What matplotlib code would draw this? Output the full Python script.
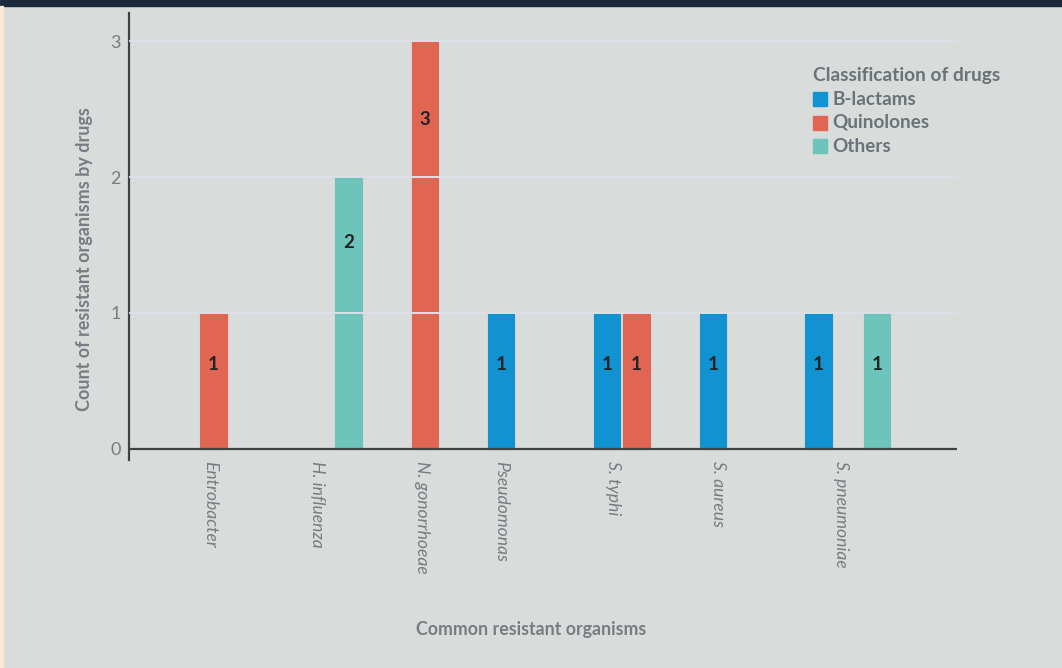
import matplotlib
matplotlib.use("Agg")
import matplotlib.pyplot as plt
from matplotlib.patches import Rectangle

# ---- data ----
organisms = ['Entrobacter', 'H. influenza', 'N. gonorrhoeae', 'Pseudomonas',
             'S. typhi', 'S. aureus', 'S. pneumoniae']
b_lactams = [0, 0, 0, 1, 1, 1, 1]
quinolones = [1, 0, 3, 0, 1, 0, 0]
others = [0, 2, 0, 0, 0, 0, 1]
series_names = ['B-lactams', 'Quinolones', 'Others']
y_ticks = [0, 1, 2, 3]

# ---- style / layout ----
colors = ['#1193d1', '#e06552', '#6cc4bb']
BG = '#d8dcdb'
GRID = '#dde0e6'
AXC = '#3e4245'
TXT = '#767c81'
LEG = '#6b7378'
offsets = [-0.28, 0.0, 0.275]
bar_w = 0.25
# visual shift of the rotated tick labels as seen in the reference
tick_label_shift = [-0.03, -0.02, -0.03, -0.28, -0.22, -0.23, -0.07]

W, H = 1062, 668
fig = plt.figure(figsize=(W / 100, H / 100), dpi=100)
fig.patch.set_facecolor(BG)

# frame decorations
fig.patches.append(Rectangle((0, 1 - 6 / H), 1, 6 / H, transform=fig.transFigure,
                             color='#1b2a3a', zorder=0))
fig.patches.append(Rectangle((0, 0), 3 / W, 1 - 6 / H, transform=fig.transFigure,
                             color='#fbe6d8', zorder=0))

L, R, T, B = 129, 957, 13, 460
ax = fig.add_axes([L / W, 1 - B / H, (R - L) / W, (B - T) / H])
ax.set_facecolor(BG)

series = [b_lactams, quinolones, others]
for s, vals in enumerate(series):
    for i, v in enumerate(vals):
        if v <= 0:
            continue
        x = i + offsets[s]
        ax.bar(x, v, width=bar_w, color=colors[s], edgecolor=colors[s],
               linewidth=0.8, zorder=2)
        ly = v - 0.38 - 0.1 * (v - 1)
        ax.text(x, ly, str(v), ha='center', va='center', fontsize=13.5,
                fontweight='bold', color='#222222', family='Lato', zorder=5)

for yv in y_ticks[1:]:
    ax.axhline(yv, color=GRID, linewidth=1.4, zorder=3)
ax.axhline(0, color=AXC, linewidth=1.6, zorder=4)

ax.set_xlim(-0.8, 7.03)
ax.set_ylim(-0.081, 3.206)

for sp in ['top', 'right', 'bottom']:
    ax.spines[sp].set_visible(False)
ax.spines['left'].set_color(AXC)
ax.spines['left'].set_linewidth(1.6)

ax.set_yticks(y_ticks)
ax.set_yticklabels([str(t) for t in y_ticks], family='Lato', fontsize=13, color=TXT)
ax.tick_params(axis='y', length=0, pad=6)

ax.set_xticks([i + tick_label_shift[i] for i in range(len(organisms))])
ax.set_xticklabels(organisms, rotation=-90, family='Lato', style='italic',
                   fontsize=12.6, color=TXT, va='top', ha='center')
ax.tick_params(axis='x', length=0, pad=1)

fig.text(85 / W, 1 - 259 / H, 'Count of resistant organisms by drugs', rotation=90,
         ha='center', va='center', family='Lato', fontweight='bold',
         fontsize=13, color=TXT)
fig.text(531 / W, 1 - 630 / H, 'Common resistant organisms', ha='center', va='center',
         family='Lato', fontweight='bold', fontsize=12.8, color=TXT)

# legend (manual)
fig.text(813 / W, 1 - 75 / H, 'Classification of drugs', ha='left', va='center',
         family='Lato', fontweight='bold', fontsize=13.8, color=LEG)
item_y = [99.3, 122.5, 146]
for s, name in enumerate(series_names):
    yc = item_y[s]
    fig.patches.append(Rectangle((813 / W, 1 - (yc + 7) / H), 14 / W, 14 / H,
                                 transform=fig.transFigure, color=colors[s]))
    fig.text(832.5 / W, 1 - yc / H, name, ha='left', va='center', family='Lato',
             fontweight='bold', fontsize=13.6, color=LEG)

fig.savefig('out.png', dpi=100, facecolor=BG)
